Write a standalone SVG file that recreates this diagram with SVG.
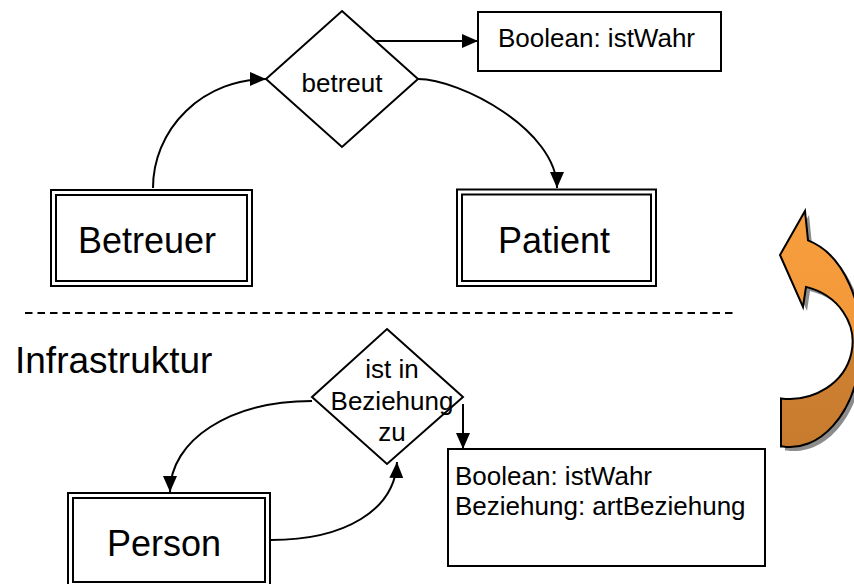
<svg xmlns="http://www.w3.org/2000/svg" width="854" height="584" viewBox="0 0 854 584">
  <style>
    .ln { fill: none; stroke: #000; stroke-width: 2; }
    .box { fill: #fff; stroke: #000; stroke-width: 2; }
    .dia { fill: #fff; stroke: #000; stroke-width: 2; }
    .big { font-family: "Liberation Sans", Arial, sans-serif; font-size: 36px; fill: #000; }
    .sm { font-family: "Liberation Sans", Arial, sans-serif; font-size: 26px; fill: #000; }
  </style>
  <defs>
    <marker id="ah" markerUnits="userSpaceOnUse" markerWidth="16" markerHeight="14" refX="16" refY="7" orient="auto" viewBox="0 0 16 14">
      <path d="M0,0 L16,7 L0,14 Z" fill="#000"/>
    </marker>
    <linearGradient id="og" gradientUnits="userSpaceOnUse" x1="0" y1="211" x2="0" y2="448">
      <stop offset="0" stop-color="#F79E3E"/>
      <stop offset="0.52" stop-color="#F2983A"/>
      <stop offset="0.6" stop-color="#CF8133"/>
      <stop offset="1" stop-color="#C77B2E"/>
    </linearGradient>
  </defs>

  <!-- separator -->
  <line x1="25" y1="313" x2="735" y2="313" stroke="#000" stroke-width="2" stroke-dasharray="7.5 5"/>
  <text class="big" x="15" y="373" style="font-size:37px">Infrastruktur</text>

  <!-- orange arrow -->
  <g id="curved-arrow">
    <path d="M780,255 L805,211 L808,240.4 A71,105 0 0 1 783,446.5 L781,446.5 L781,398.4 A63,57 0 0 0 806,286.9 L803,307 Z" fill="#8c8c8c" transform="translate(4,4)"/>
    <path d="M780,255 L805,211 L808,240.4 A71,105 0 0 1 783,446.5 L781,446.5 L781,398.4 A63,57 0 0 0 806,286.9 L803,307 Z" fill="url(#og)" stroke="#000" stroke-width="2" stroke-linejoin="miter"/>
  </g>

  <g id="connectors">
    <path class="ln" d="M153,188 A113,109 0 0 1 266,79" marker-end="url(#ah)"/>
    <path class="ln" d="M418,79 C460,79 557,130 557,188" marker-end="url(#ah)"/>
    <line class="ln" x1="376" y1="41" x2="478" y2="41" marker-end="url(#ah)"/>
    <path class="ln" d="M312,401 C230,401 170,440 170,492" marker-end="url(#ah)"/>
    <path class="ln" d="M271,540 C345,540 395,510 397,462" marker-end="url(#ah)"/>
    <line class="ln" x1="463" y1="404" x2="463" y2="449" marker-end="url(#ah)"/>
  </g>

  <g id="betreut">
    <polygon class="dia" points="342,11 418,79 342,147 266,79"/>
    <text class="sm" x="342" y="92" text-anchor="middle">betreut</text>
  </g>

  <g id="attr-top">
    <rect class="box" x="478" y="12" width="243" height="59"/>
    <text class="sm" x="498" y="47">Boolean: istWahr</text>
  </g>

  <g id="betreuer">
    <rect class="box" x="51" y="190" width="201" height="96"/>
    <rect class="box" x="56" y="195" width="191" height="86"/>
    <text class="big" x="78" y="253">Betreuer</text>
  </g>

  <g id="patient">
    <rect class="box" x="457" y="189.5" width="199" height="96.5"/>
    <rect class="box" x="462" y="194.5" width="189" height="86.5"/>
    <text class="big" x="498" y="253">Patient</text>
  </g>

  <g id="beziehung">
    <polygon class="dia" points="387,329 463,397 387,464 312,397"/>
    <text class="sm" x="392" y="378" text-anchor="middle">ist in</text>
    <text class="sm" x="392" y="410" text-anchor="middle">Beziehung</text>
    <text class="sm" x="392" y="441" text-anchor="middle">zu</text>
  </g>

  <g id="attr-bottom">
    <rect class="box" x="448" y="449" width="317" height="117"/>
    <text class="sm" x="455" y="485">Boolean: istWahr</text>
    <text class="sm" x="455" y="515">Beziehung: artBeziehung</text>
  </g>

  <g id="person">
    <rect class="box" x="68" y="493" width="202" height="94"/>
    <rect class="box" x="73" y="498" width="192" height="84"/>
    <text class="big" x="107" y="556">Person</text>
  </g>
</svg>
